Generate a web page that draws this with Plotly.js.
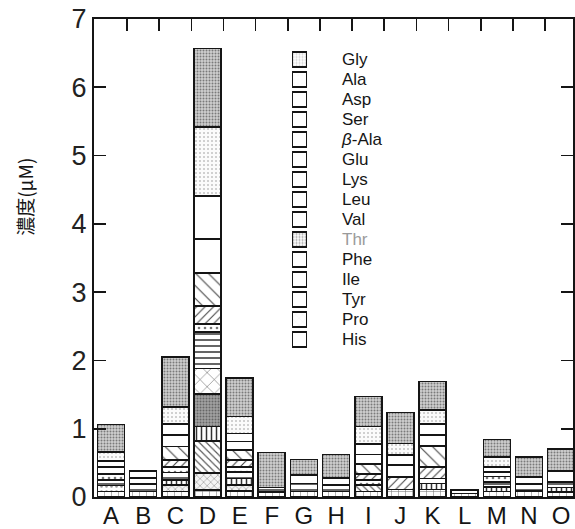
<!DOCTYPE html>
<html>
<head>
<meta charset="utf-8">
<script src="https://cdn.plot.ly/plotly-3.0.1.min.js"></script>
<style>
  html, body { margin: 0; padding: 0; background: #fff; }
  #chart { width: 575px; height: 529px; }
</style>
</head>
<body>
<div id="chart"></div>
<script>
// Sample sites along the x axis
const categories = ['A', 'B', 'C', 'D', 'E', 'F', 'G', 'H', 'I', 'J', 'K', 'L', 'M', 'N', 'O'];

// Amino acids, listed top of the stack first
const aminoAcids = ['Gly', 'Ala', 'Asp', 'Ser', 'β-Ala', 'Glu', 'Lys', 'Leu', 'Val', 'Thr', 'Phe', 'Ile', 'Tyr', 'Pro', 'His'];

// Concentrations (µM) per site, A..O
const gly  = [0.40, 0,    0.73, 1.15, 0.56, 0.51, 0.23, 0.34, 0.44, 0.45,  0.42, 0,    0.25, 0.30, 0.32];
const ala  = [0.13, 0,    0.25, 1.01, 0.25, 0,    0,    0,    0.25, 0.17,  0.20, 0,    0.15, 0,    0];
const asp  = [0.09, 0.10, 0.16, 0.63, 0.12, 0,    0.12, 0.10, 0.16, 0.145, 0.16, 0,    0.07, 0.10, 0.16];
const ser  = [0.10, 0.09, 0.17, 0.50, 0.12, 0,    0,    0,    0.14, 0.18,  0.16, 0,    0.07, 0,    0];
const bAla = [0,    0,    0.20, 0.48, 0.15, 0,    0,    0,    0.14, 0,     0.31, 0,    0,    0,    0];
const glu  = [0,    0,    0.10, 0.27, 0.10, 0,    0,    0,    0.09, 0.18,  0.17, 0,    0,    0,    0];
const lys  = [0.09, 0,    0.08, 0.11, 0.07, 0,    0,    0,    0.07, 0,     0,    0,    0.08, 0,    0];
const leu  = [0.08, 0.11, 0.11, 0.54, 0.10, 0.07, 0.12, 0.10, 0,    0,     0.07, 0.05, 0.07, 0.10, 0.08];
const val  = [0,    0,    0,    0.37, 0,    0,    0,    0,    0,    0,     0,    0,    0,    0,    0];
const thr  = [0,    0,    0,    0.48, 0,    0,    0,    0,    0,    0,     0,    0,    0,    0,    0];
const phe  = [0,    0,    0.07, 0.21, 0.09, 0,    0,    0,    0,    0,     0.09, 0,    0.07, 0,    0.07];
const ile  = [0,    0,    0,    0.47, 0,    0,    0,    0,    0.10, 0,     0,    0,    0,    0,    0];
const tyr  = [0.09, 0,    0,    0,    0,    0,    0,    0,    0,    0,     0,    0,    0,    0,    0];
const pro  = [0,    0,    0.10, 0.25, 0.09, 0,    0,    0,    0,    0,     0,    0,    0,    0,    0];
const his  = [0.08, 0.08, 0.08, 0.10, 0.09, 0.07, 0.08, 0.08, 0.08, 0.11,  0.11, 0.05, 0.08, 0.09, 0.07];

const seriesValues = [gly, ala, asp, ser, bAla, glu, lys, leu, val, thr, phe, ile, tyr, pro, his];

// Fill style of each amino acid (hatching / stipple)
const fillStyles = {
  'Gly':   { shape: '.',  bg: '#d0d0d0', fg: '#7a7a7a', size: 3,  sol: 0.35 },
  'Ala':   { shape: '.',  bg: '#fbfbfb', fg: '#c2c2c2', size: 4,  sol: 0.2 },
  'Asp':   { shape: '',   bg: '#ffffff', fg: '#ffffff', size: 8,  sol: 0.1 },
  'Ser':   { shape: '',   bg: '#ffffff', fg: '#ffffff', size: 8,  sol: 0.1 },
  'β-Ala': { shape: '\\', bg: '#ffffff', fg: '#444444', size: 9,  sol: 0.12 },
  'Glu':   { shape: '/',  bg: '#ffffff', fg: '#444444', size: 6,  sol: 0.18 },
  'Lys':   { shape: '.',  bg: '#ffffff', fg: '#777777', size: 6,  sol: 0.15 },
  'Leu':   { shape: '-',  bg: '#ffffff', fg: '#333333', size: 6,  sol: 0.25 },
  'Val':   { shape: 'x',  bg: '#ffffff', fg: '#555555', size: 10, sol: 0.1 },
  'Thr':   { shape: '.',  bg: '#a2a2a2', fg: '#666666', size: 3,  sol: 0.35 },
  'Phe':   { shape: '|',  bg: '#ffffff', fg: '#333333', size: 5,  sol: 0.3 },
  'Ile':   { shape: '\\', bg: '#ffffff', fg: '#555555', size: 5,  sol: 0.22 },
  'Tyr':   { shape: '.',  bg: '#ffffff', fg: '#999999', size: 5,  sol: 0.2 },
  'Pro':   { shape: 'x',  bg: '#f4f4f4', fg: '#888888', size: 5,  sol: 0.2 },
  'His':   { shape: '+',  bg: '#ffffff', fg: '#777777', size: 7,  sol: 0.15 }
};

// Key labels (β in italics, Thr printed in grey)
const keyLabels = {
  'β-Ala': '<i>β</i>-Ala',
  'Thr': '<span style="fill:#9a9a9a">Thr</span>'
};

const ink = '#151515';
const traces = [];

// Stacked bars: His at the bottom, Gly on top
for (let i = aminoAcids.length - 1; i >= 0; i--) {
  const name = aminoAcids[i];
  const st = fillStyles[name];
  traces.push({
    type: 'bar',
    name: name,
    x: categories,
    y: seriesValues[i].map(v => (v > 0 ? v : null)),
    xaxis: 'x', yaxis: 'y',
    marker: {
      color: st.bg,
      line: { color: ink, width: 1.6 },
      pattern: { shape: st.shape, bgcolor: st.bg, fgcolor: st.fg, size: st.size, solidity: st.sol }
    },
    hoverinfo: 'name+y',
    showlegend: false
  });
}

// Empty trace that carries the top axis (boundary ticks)
traces.push({ type: 'scatter', x: [], y: [], xaxis: 'x2', yaxis: 'y', hoverinfo: 'skip', showlegend: false });

// Key swatches, one box per amino acid
traces.push({
  type: 'bar',
  orientation: 'h',
  x: aminoAcids.map(() => 1),
  y: aminoAcids,
  xaxis: 'x3', yaxis: 'y3',
  width: 0.72,
  marker: {
    color: aminoAcids.map(n => fillStyles[n].bg),
    line: { color: ink, width: 2 },
    pattern: {
      shape: aminoAcids.map(n => fillStyles[n].shape),
      bgcolor: aminoAcids.map(n => fillStyles[n].bg),
      fgcolor: aminoAcids.map(n => fillStyles[n].fg),
      size: aminoAcids.map(n => Math.min(fillStyles[n].size, 5)),
      solidity: aminoAcids.map(n => fillStyles[n].sol)
    }
  },
  hoverinfo: 'skip',
  showlegend: false
});

const xRange = [-0.53, 14.37];
const boundaries = categories.slice(1).map((c, i) => i + 0.5);

const layout = {
  width: 575,
  height: 529,
  margin: { l: 94, r: 2, t: 19, b: 32 },
  paper_bgcolor: '#ffffff',
  plot_bgcolor: '#ffffff',
  barmode: 'stack',
  bargap: 0.16,
  showlegend: false,
  font: { family: '"Liberation Sans", Arial, sans-serif', color: ink },
  xaxis: {
    type: 'category',
    categoryarray: categories,
    range: xRange,
    showline: true, linewidth: 2, linecolor: ink, mirror: true,
    ticks: '',
    tickfont: { size: 24, color: ink },
    ticklabelstandoff: -4,
    showgrid: false, zeroline: false, fixedrange: true
  },
  xaxis2: {
    overlaying: 'x', side: 'top', anchor: 'y',
    range: xRange,
    tickmode: 'array', tickvals: boundaries,
    ticks: 'inside', ticklen: 12, tickwidth: 1.6, tickcolor: ink,
    showticklabels: false, showline: false, showgrid: false, zeroline: false
  },
  yaxis: {
    range: [0, 7], tick0: 0, dtick: 1,
    ticks: 'inside', ticklen: 12, tickwidth: 1.6, tickcolor: ink,
    showline: true, linewidth: 2, linecolor: ink, mirror: 'ticks',
    tickfont: { size: 27, color: '#222' },
    showgrid: false, zeroline: false, fixedrange: true
  },
  xaxis3: {
    domain: [0.4134, 0.4447], anchor: 'y3', range: [0, 1], visible: false, fixedrange: true
  },
  yaxis3: {
    domain: [0.3086, 0.9362], anchor: 'x3', type: 'category',
    categoryarray: aminoAcids, autorange: 'reversed',
    side: 'right', ticks: '', showline: false, showgrid: false, zeroline: false,
    tickmode: 'array', tickvals: aminoAcids,
    ticktext: aminoAcids.map(n => keyLabels[n] || n),
    ticklabelstandoff: 34,
    tickfont: { size: 17, color: ink },
    fixedrange: true
  },
  annotations: [{
    text: '濃度(μM)',
    xref: 'paper', yref: 'paper',
    x: -0.144, y: 0.628,
    xanchor: 'center', yanchor: 'middle',
    textangle: -90, showarrow: false,
    font: { family: '"Noto Sans CJK JP", "Noto Sans", sans-serif', size: 19, color: '#151515' }
  }]
};

Plotly.newPlot('chart', traces, layout, { displayModeBar: false, staticPlot: true });
</script>
</body>
</html>
